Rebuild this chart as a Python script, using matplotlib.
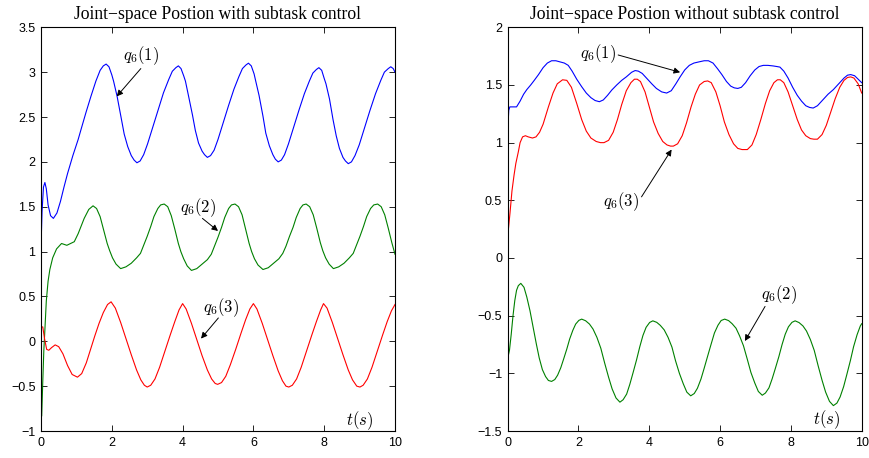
import numpy as np
import matplotlib
matplotlib.use('Agg')
from matplotlib import pyplot as plt

plt.rcParams['mathtext.fontset'] = 'cm'
plt.rcParams['font.family'] = ['Liberation Sans', 'DejaVu Sans']

# ---- left panel: with subtask control ----
left_q1_t = [0.00, 0.03, 0.07, 0.11, 0.15, 0.20, 0.27, 0.35, 0.45, 0.55, 0.65, 0.75, 0.90, 1.05, 1.13,
             1.27, 1.41, 1.55, 1.67, 1.76, 1.84, 1.92, 2.00, 2.05, 2.15, 2.26, 2.35, 2.45, 2.55, 2.63, 2.71,
             2.80, 2.90, 3.01, 3.16, 3.31, 3.46, 3.61, 3.71, 3.81, 3.88,
             3.955, 4.03, 4.08, 4.17, 4.28, 4.36, 4.45, 4.55, 4.62, 4.70,
             4.79, 4.89, 5.00, 5.15, 5.30, 5.45, 5.59, 5.69, 5.79, 5.86,
             5.94, 6.02, 6.06, 6.16, 6.27, 6.35, 6.45, 6.55, 6.62, 6.70,
             6.79, 6.88, 6.99, 7.14, 7.29, 7.44, 7.58, 7.68, 7.78, 7.85,
             7.93, 8.00, 8.05, 8.15, 8.25, 8.34, 8.43, 8.53, 8.60, 8.68,
             8.77, 8.87, 8.99, 9.14, 9.29, 9.45, 9.60, 9.70, 9.81, 9.88, 9.95, 10.0]
left_q1_v = [1.05, 1.45, 1.72, 1.77, 1.70, 1.52, 1.40, 1.37, 1.43, 1.56, 1.72, 1.87, 2.07, 2.25, 2.36,
             2.55, 2.73, 2.90, 3.02, 3.07, 3.09, 3.06, 2.97, 2.90, 2.73, 2.50, 2.31, 2.17, 2.07, 2.02, 1.99,
             2.01, 2.08, 2.20, 2.39, 2.58, 2.77, 2.92, 3.01, 3.05, 3.07,
             3.04, 2.96, 2.90, 2.73, 2.52, 2.35, 2.21, 2.12, 2.08, 2.05,
             2.07, 2.13, 2.25, 2.44, 2.63, 2.81, 2.95, 3.04, 3.08, 3.10,
             3.07, 2.98, 2.91, 2.74, 2.51, 2.32, 2.18, 2.08, 2.03, 2.00,
             2.02, 2.08, 2.20, 2.39, 2.58, 2.76, 2.90, 2.99, 3.03, 3.05,
             3.02, 2.93, 2.87, 2.70, 2.47, 2.29, 2.15, 2.05, 2.01, 1.98,
             2.00, 2.07, 2.19, 2.38, 2.57, 2.76, 2.91, 3.00, 3.04, 3.06, 3.04, 3.00]

left_q2_t = [0.02, 0.05, 0.08, 0.11, 0.15, 0.20, 0.25, 0.33, 0.44, 0.58, 0.73, 0.94, 1.05, 1.22, 1.35, 1.47,
             1.57, 1.67, 1.77, 1.87, 1.94, 2.02, 2.12, 2.25,
             2.40, 2.55, 2.70, 2.81, 2.90, 3.00, 3.10, 3.19, 3.30, 3.38, 3.48,
             3.58, 3.68, 3.78, 3.88, 3.95, 4.03, 4.13, 4.25,
             4.40, 4.55, 4.70, 4.81, 4.90, 5.00, 5.10, 5.19, 5.30, 5.38, 5.48,
             5.58, 5.68, 5.78, 5.88, 5.95, 6.03, 6.13, 6.27,
             6.42, 6.57, 6.72, 6.83, 6.92, 7.02, 7.12, 7.21, 7.32, 7.40, 7.49,
             7.59, 7.69, 7.79, 7.89, 7.96, 8.04, 8.14, 8.26,
             8.41, 8.56, 8.71, 8.82, 8.91, 9.01, 9.11, 9.20, 9.31, 9.40, 9.51,
             9.61, 9.71, 9.81, 9.91, 10.0]
left_q2_v = [-0.83, -0.45, -0.10, 0.13, 0.45, 0.67, 0.80, 0.93, 1.03, 1.09, 1.07, 1.11, 1.20, 1.37, 1.47, 1.51,
             1.48, 1.39, 1.24, 1.09, 1.01, 0.93, 0.86, 0.81,
             0.83, 0.87, 0.93, 0.98, 1.07, 1.17, 1.28, 1.39, 1.48, 1.52, 1.53,
             1.50, 1.40, 1.25, 1.09, 1.00, 0.92, 0.84, 0.79,
             0.81, 0.86, 0.91, 0.97, 1.06, 1.16, 1.27, 1.38, 1.48, 1.52, 1.53,
             1.50, 1.41, 1.25, 1.09, 1.00, 0.92, 0.85, 0.80,
             0.82, 0.87, 0.92, 0.98, 1.06, 1.17, 1.27, 1.38, 1.48, 1.52, 1.53,
             1.50, 1.41, 1.26, 1.10, 1.01, 0.93, 0.86, 0.81,
             0.83, 0.87, 0.93, 0.98, 1.07, 1.17, 1.28, 1.39, 1.48, 1.52, 1.53,
             1.50, 1.41, 1.26, 1.10, 0.97]

left_q3_t = [0.00, 0.05, 0.10, 0.16, 0.22, 0.30, 0.40, 0.50, 0.62, 0.75, 0.88, 1.03, 1.15, 1.28, 1.40, 1.52,
             1.64, 1.76, 1.88, 1.98, 2.10, 2.25, 2.40, 2.55, 2.70, 2.82, 2.92, 3.00, 3.10, 3.22, 3.35, 3.50,
             3.65, 3.78, 3.90, 4.00, 4.10, 4.25, 4.40, 4.55, 4.70, 4.82, 4.92, 4.99, 5.10, 5.22, 5.35, 5.50,
             5.65, 5.78, 5.90, 6.00, 6.10, 6.25, 6.40, 6.55, 6.70, 6.82, 6.92, 7.00, 7.10, 7.22, 7.35, 7.50,
             7.65, 7.78, 7.90, 7.98, 8.08, 8.23, 8.38, 8.53, 8.68, 8.80, 8.92, 9.01, 9.10, 9.22, 9.35, 9.50,
             9.65, 9.78, 9.90, 10.0]
left_q3_v = [0.16, 0.16, 0.03, -0.09, -0.10, -0.07, -0.04, -0.06, -0.14, -0.27, -0.37, -0.40, -0.36, -0.24, -0.09, 0.06,
             0.20, 0.32, 0.41, 0.44, 0.37, 0.21, 0.03, -0.15, -0.32, -0.43, -0.49, -0.51, -0.49, -0.42, -0.29, -0.11,
             0.07, 0.22, 0.35, 0.42, 0.36, 0.20, 0.02, -0.16, -0.32, -0.42, -0.47, -0.48, -0.46, -0.39, -0.26, -0.09,
             0.09, 0.24, 0.36, 0.42, 0.36, 0.20, 0.02, -0.16, -0.33, -0.44, -0.50, -0.51, -0.49, -0.42, -0.29, -0.11,
             0.07, 0.22, 0.35, 0.42, 0.37, 0.21, 0.03, -0.15, -0.32, -0.43, -0.50, -0.51, -0.49, -0.42, -0.29, -0.11,
             0.07, 0.22, 0.34, 0.41]

# ---- right panel: without subtask control ----
right_q1_t = [0.00, 0.03, 0.06, 0.15, 0.25, 0.35, 0.45, 0.54, 0.65, 0.75, 0.87, 1.00, 1.12, 1.24, 1.36, 1.48,
              1.60, 1.71, 1.82, 1.95, 2.09, 2.22, 2.35, 2.47, 2.59, 2.70, 2.82, 2.94, 3.08, 3.22, 3.35, 3.50,
              3.60, 3.69, 3.80, 3.95, 4.07, 4.20, 4.35, 4.49, 4.62, 4.75, 4.87, 5.00, 5.13, 5.26, 5.40, 5.55,
              5.67, 5.80, 5.93, 6.05, 6.18, 6.30, 6.40, 6.50, 6.60, 6.72, 6.85, 6.98, 7.10, 7.22, 7.35, 7.50,
              7.60, 7.69, 7.80, 7.92, 8.05, 8.18, 8.30, 8.42, 8.53, 8.63, 8.75, 8.90, 9.05, 9.20, 9.35, 9.50,
              9.60, 9.69, 9.80, 9.90, 10.0]
right_q1_v = [1.10, 1.28, 1.31, 1.31, 1.31, 1.36, 1.42, 1.46, 1.50, 1.54, 1.59, 1.65, 1.69, 1.71, 1.71, 1.70,
              1.69, 1.67, 1.62, 1.55, 1.485, 1.43, 1.39, 1.365, 1.355, 1.37, 1.41, 1.456, 1.50, 1.54, 1.57, 1.61,
              1.625, 1.62, 1.60, 1.55, 1.51, 1.47, 1.44, 1.43, 1.45, 1.51, 1.57, 1.63, 1.67, 1.69, 1.70, 1.71,
              1.71, 1.69, 1.64, 1.59, 1.53, 1.49, 1.475, 1.47, 1.48, 1.52, 1.58, 1.63, 1.66, 1.67, 1.67, 1.665,
              1.66, 1.655, 1.62, 1.56, 1.48, 1.41, 1.36, 1.32, 1.305, 1.30, 1.32, 1.37, 1.42, 1.46, 1.51, 1.56,
              1.585, 1.59, 1.58, 1.55, 1.52]

right_q2_t = [0.00, 0.05, 0.10, 0.15, 0.20, 0.25, 0.30, 0.37,
              0.46, 0.54, 0.63, 0.72, 0.81, 0.89, 0.98, 1.07, 1.15, 1.24,
              1.33, 1.41, 1.50, 1.58, 1.67, 1.75, 1.84, 1.92, 2.01, 2.09,
              2.20, 2.31, 2.41, 2.52, 2.63, 2.74, 2.85, 2.95, 3.06, 3.17,
              3.26, 3.36, 3.45, 3.54, 3.64, 3.73, 3.82, 3.91, 4.01, 4.10,
              4.21, 4.31, 4.42, 4.53, 4.64, 4.74, 4.85, 4.96, 5.06, 5.17,
              5.27, 5.36, 5.46, 5.55, 5.65, 5.75, 5.84, 5.94, 6.03, 6.13,
              6.24, 6.34, 6.45, 6.55, 6.66, 6.77, 6.87, 6.98, 7.08, 7.19,
              7.28, 7.38, 7.47, 7.56, 7.66, 7.75, 7.84, 7.93, 8.03, 8.12,
              8.23, 8.34, 8.44, 8.55, 8.66, 8.77, 8.88, 8.98, 9.09, 9.20,
              9.30, 9.39, 9.49, 9.58, 9.68, 9.77, 9.87, 9.96, 10.0]
right_q2_v = [-0.87, -0.80, -0.66, -0.50, -0.37, -0.28, -0.24, -0.22,
              -0.254, -0.339, -0.458, -0.603, -0.747, -0.866, -0.968, -1.028, -1.062, -1.07,
              -1.054, -1.016, -0.951, -0.876, -0.789, -0.703, -0.627, -0.573, -0.541, -0.53,
              -0.544, -0.573, -0.616, -0.688, -0.782, -0.912, -1.034, -1.135, -1.214, -1.25,
              -1.229, -1.180, -1.095, -0.996, -0.883, -0.771, -0.672, -0.601, -0.559, -0.545,
              -0.558, -0.584, -0.623, -0.688, -0.773, -0.890, -1.000, -1.091, -1.163, -1.195,
              -1.175, -1.129, -1.049, -0.956, -0.849, -0.743, -0.650, -0.583, -0.542, -0.53,
              -0.543, -0.570, -0.609, -0.675, -0.761, -0.880, -0.992, -1.084, -1.157, -1.19,
              -1.171, -1.126, -1.048, -0.958, -0.855, -0.751, -0.661, -0.597, -0.558, -0.545,
              -0.560, -0.589, -0.633, -0.707, -0.802, -0.935, -1.060, -1.162, -1.243, -1.28,
              -1.258, -1.205, -1.115, -1.010, -0.890, -0.770, -0.665, -0.590, -0.57]

right_q3_t = [0.00, 0.02, 0.065, 0.12, 0.18, 0.23, 0.30, 0.35, 0.42, 0.50, 0.58, 0.70, 0.80, 0.90, 1.00, 1.15,
              1.28, 1.40, 1.55, 1.67, 1.80, 1.95, 2.09, 2.22, 2.35, 2.50, 2.62, 2.72, 2.85, 2.98, 3.10, 3.22,
              3.35, 3.48, 3.58, 3.66, 3.75, 3.88, 4.00, 4.12, 4.25, 4.38, 4.50, 4.60, 4.68, 4.80, 4.93, 5.05,
              5.18, 5.30, 5.42, 5.55, 5.65, 5.75, 5.88, 6.00, 6.12, 6.25, 6.38, 6.50, 6.62, 6.77, 6.90, 7.02,
              7.15, 7.28, 7.40, 7.52, 7.62, 7.70, 7.80, 7.92, 8.05, 8.18, 8.30, 8.42, 8.55, 8.65, 8.75, 8.88,
              9.00, 9.12, 9.25, 9.38, 9.50, 9.60, 9.69, 9.78, 9.90, 10.0]
right_q3_v = [0.10, 0.25, 0.39, 0.58, 0.72, 0.82, 0.92, 1.00, 1.05, 1.06, 1.05, 1.04, 1.05, 1.09, 1.16, 1.31,
              1.43, 1.51, 1.545, 1.54, 1.48, 1.34, 1.20, 1.10, 1.04, 1.01, 1.00, 1.00, 1.02, 1.09, 1.20, 1.33,
              1.45, 1.52, 1.55, 1.55, 1.53, 1.44, 1.31, 1.18, 1.08, 1.01, 0.98, 0.97, 0.97, 0.99, 1.06, 1.17,
              1.31, 1.42, 1.50, 1.53, 1.535, 1.52, 1.44, 1.32, 1.18, 1.07, 0.99, 0.95, 0.94, 0.94, 0.98, 1.07,
              1.20, 1.34, 1.45, 1.52, 1.545, 1.545, 1.52, 1.44, 1.32, 1.20, 1.11, 1.06, 1.035, 1.03, 1.03, 1.07,
              1.15, 1.26, 1.38, 1.48, 1.54, 1.565, 1.57, 1.56, 1.51, 1.43]

x_ticks = [0, 2, 4, 6, 8, 10]
left_y_ticks = [-1, -0.5, 0, 0.5, 1, 1.5, 2, 2.5, 3, 3.5]
right_y_ticks = [-1.5, -1, -0.5, 0, 0.5, 1, 1.5, 2]

titles = ['Joint\u2212space Postion with subtask control',
          'Joint\u2212space Postion without subtask control']

# (label, text position, arrow tail, arrow head)
left_notes = [(r'$q_6(1)$', (2.83, 3.18), (2.82, 3.04), (2.14, 2.73)),
              (r'$q_6(2)$', (4.44, 1.49), (4.56, 1.37), (5.00, 1.23)),
              (r'$q_6(3)$', (5.08, 0.37), (5.01, 0.26), (4.52, 0.03))]
right_notes = [(r'$q_6(1)$', (2.56, 1.775), (3.12, 1.76), (4.87, 1.61)),
               (r'$q_6(3)$', (3.20, 0.49), (3.78, 0.53), (4.63, 0.94)),
               (r'$q_6(2)$', (7.65, -0.32), (7.27, -0.42), (6.70, -0.72))]


def tick_text(v):
    return ('%g' % v).replace('-', '\u2212')


def setup_axes(ax, yticks, title, notes, tlabel_pos):
    ax.set_xlim(0, 10)
    ax.set_ylim(yticks[0], yticks[-1])
    ax.set_xticks(x_ticks)
    ax.set_xticklabels([tick_text(v) for v in x_ticks])
    ax.set_yticks(yticks)
    ax.set_yticklabels([tick_text(v) for v in yticks])
    ax.tick_params(direction='in', top=True, right=True, length=4, width=0.6,
                   labelsize=9, pad=4)
    for sp in ax.spines.values():
        sp.set_linewidth(0.8)
    ax.set_title(title, fontsize=12.7, family='Liberation Serif', pad=6)
    for label, txt, tail, head in notes:
        ax.text(txt[0], txt[1], label, fontsize=12, ha='center', va='center')
        ax.annotate('', xy=head, xytext=tail,
                    arrowprops=dict(arrowstyle='-|>', color='k', lw=0.7,
                                    mutation_scale=9, shrinkA=0, shrinkB=0))
    ax.text(tlabel_pos[0], tlabel_pos[1], r'$t(s)$', fontsize=12, ha='center', va='center')


fig = plt.figure(figsize=(8.7, 4.58), dpi=100)
ax1 = fig.add_axes([41 / 870, 1 - 431 / 458, 354 / 870, 403.7 / 458])
ax2 = fig.add_axes([507.7 / 870, 1 - 431 / 458, 354 / 870, 403.7 / 458])

lw = 0.8
ax1.plot(left_q1_t, left_q1_v, color='#0000ff', lw=lw)
ax1.plot(left_q2_t, left_q2_v, color='#008000', lw=lw)
ax1.plot(left_q3_t, left_q3_v, color='#ff0000', lw=lw)
setup_axes(ax1, left_y_ticks, titles[0], left_notes, (9.01, -0.88))

ax2.plot(right_q1_t, right_q1_v, color='#0000ff', lw=lw)
ax2.plot(right_q2_t, right_q2_v, color='#008000', lw=lw)
ax2.plot(right_q3_t, right_q3_v, color='#ff0000', lw=lw)
setup_axes(ax2, right_y_ticks, titles[1], right_notes, (9.0, -1.405))

fig.savefig('out.png', dpi=100)
